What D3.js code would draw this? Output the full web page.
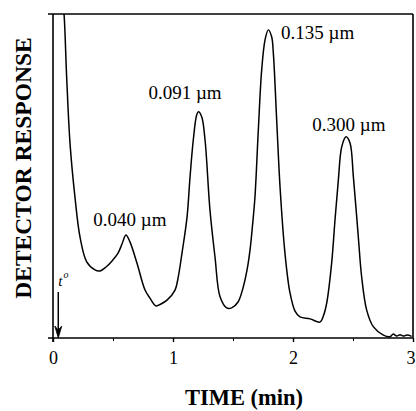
<!DOCTYPE html>
<html><head><meta charset="utf-8">
<script src="https://cdn.jsdelivr.net/npm/d3@7/dist/d3.min.js"></script>
<style>body{margin:0;background:#fff}svg{display:block}</style>
</head><body>
<svg id="c" width="416" height="411"></svg>
<script>
// time (min)
const times = [0.079,0.092,0.114,0.142,0.183,0.225,0.281,0.35,0.392,0.442,0.492,0.542,0.575,0.608,0.642,0.7,0.767,0.808,0.858,0.9,0.95,1.017,1.042,1.075,1.117,1.142,1.169,1.197,1.211,1.239,1.267,1.308,1.35,1.392,1.447,1.489,1.542,1.583,1.617,1.642,1.663,1.683,1.711,1.739,1.767,1.794,1.822,1.836,1.864,1.892,1.933,1.975,2.017,2.058,2.142,2.225,2.253,2.281,2.322,2.35,2.378,2.406,2.442,2.475,2.503,2.544,2.572,2.614,2.669,2.753,2.808,2.836,2.864,2.892,2.919,2.95,2.989];
// detector response (arbitrary units)
const response = [104.3,100,80.4,60.0,43.5,31.2,23.5,21.0,20.7,21.9,23.8,26.2,29.0,31.8,29.6,23.1,14.8,12.3,9.9,10.5,11.7,14.8,18.5,26.2,37.3,49.7,61.1,68.8,69.8,68.3,61.1,39.5,25.0,12.7,9.3,9.3,11.1,15.4,21.0,27.2,34.9,43.5,64.2,82.7,92.0,95.1,93.0,88.0,67.3,46.6,26.2,13.9,8.3,6.5,5.9,4.9,6.8,10.8,23.1,36.4,48.8,59.0,62.1,60.2,49.8,31.3,18.9,8.6,3.5,0.9,0.4,1.2,0.6,1.0,0.6,0.9,0.5];
// peak labels
const peakLabels = ["0.040 µm","0.091 µm","0.135 µm","0.300 µm"];
const peakLabelT = [0.335,0.795,1.9,2.16];
const peakLabelR = [34.6,73.8,92.2,64.0];
const xTicks = [0,1,2,3];
const xMinorTicks = [0.5,1.5,2.5];
const t0 = 0.044;

const svg = d3.select("#c");
const x = d3.scaleLinear().domain([0,3]).range([53,413]);
const y = d3.scaleLinear().domain([0,100]).range([338,14]);
const serif = "'Liberation Serif','Times New Roman',serif";

svg.append("clipPath").attr("id","clip").append("rect")
  .attr("x",53).attr("y",14).attr("width",360).attr("height",324);

// frame
const fr = svg.append("g").attr("stroke","#000").attr("stroke-width",1.6).attr("fill","none");
fr.append("line").attr("x1",48).attr("x2",413).attr("y1",y(100)).attr("y2",y(100));
fr.append("line").attr("x1",413).attr("x2",413).attr("y1",y(100)).attr("y2",y(0));
fr.append("line").attr("x1",53).attr("x2",53).attr("y1",y(100)).attr("y2",342);

// bottom axis
const ax = svg.append("g").attr("transform",`translate(0,${y(0)})`)
  .call(d3.axisBottom(x).tickValues(xTicks).tickSize(4).tickSizeOuter(0).tickFormat(d3.format("d")));
ax.select(".domain").attr("d",`M48,0H413`).attr("stroke-width",1.6);
ax.selectAll(".tick line").attr("stroke-width",1.4);
ax.selectAll(".tick text").attr("font-family",serif).attr("font-size",18).attr("dy","1.05em").attr("fill","#000")
  .attr("dx",d=>d===3?-2.5:0);
svg.append("g").attr("transform",`translate(0,${y(0)})`)
  .call(d3.axisBottom(x).tickValues(xMinorTicks).tickSize(3).tickFormat(""))
  .select(".domain").remove();

// curve
const data = times.map((t,i)=>[t,response[i]]);
svg.append("path").datum(data).attr("clip-path","url(#clip)")
  .attr("fill","none").attr("stroke","#000").attr("stroke-width",1.5).attr("stroke-linejoin","round")
  .attr("d",d3.line().x(d=>x(d[0])).y(d=>y(d[1])).curve(d3.curveCatmullRom.alpha(0.5)));

// peak labels
svg.append("g").selectAll("text").data(peakLabels).join("text")
  .attr("x",(d,i)=>x(peakLabelT[i])).attr("y",(d,i)=>y(peakLabelR[i]))
  .attr("font-family",serif).attr("font-size",19).attr("fill","#000").text(d=>d);

// t0 arrow
const ax0 = x(t0);
svg.append("line").attr("x1",ax0).attr("x2",ax0).attr("y1",292).attr("y2",330)
  .attr("stroke","#000").attr("stroke-width",1.5);
svg.append("path").attr("d",`M${ax0-3.5},326L${ax0},338L${ax0+3.5},326L${ax0},330Z`).attr("fill","#000")
  .attr("stroke","#000").attr("stroke-width",0.8);
const tl = svg.append("text").attr("x",ax0).attr("y",286).attr("font-family",serif)
  .attr("font-style","italic").attr("font-size",15).attr("fill","#000");
tl.append("tspan").text("t");
tl.append("tspan").attr("font-size",10).attr("dy",-8).attr("dx",1).text("o");

// axis titles
svg.append("text").attr("x",244).attr("y",405).attr("text-anchor","middle")
  .attr("font-family",serif).attr("font-weight","bold").attr("font-size",22.5).attr("fill","#000").text("TIME (min)");
svg.append("text").attr("transform","translate(31,168) rotate(-90)").attr("text-anchor","middle")
  .attr("font-family",serif).attr("font-weight","bold").attr("font-size",23.5).attr("fill","#000").text("DETECTOR RESPONSE");
</script>
</body></html>
